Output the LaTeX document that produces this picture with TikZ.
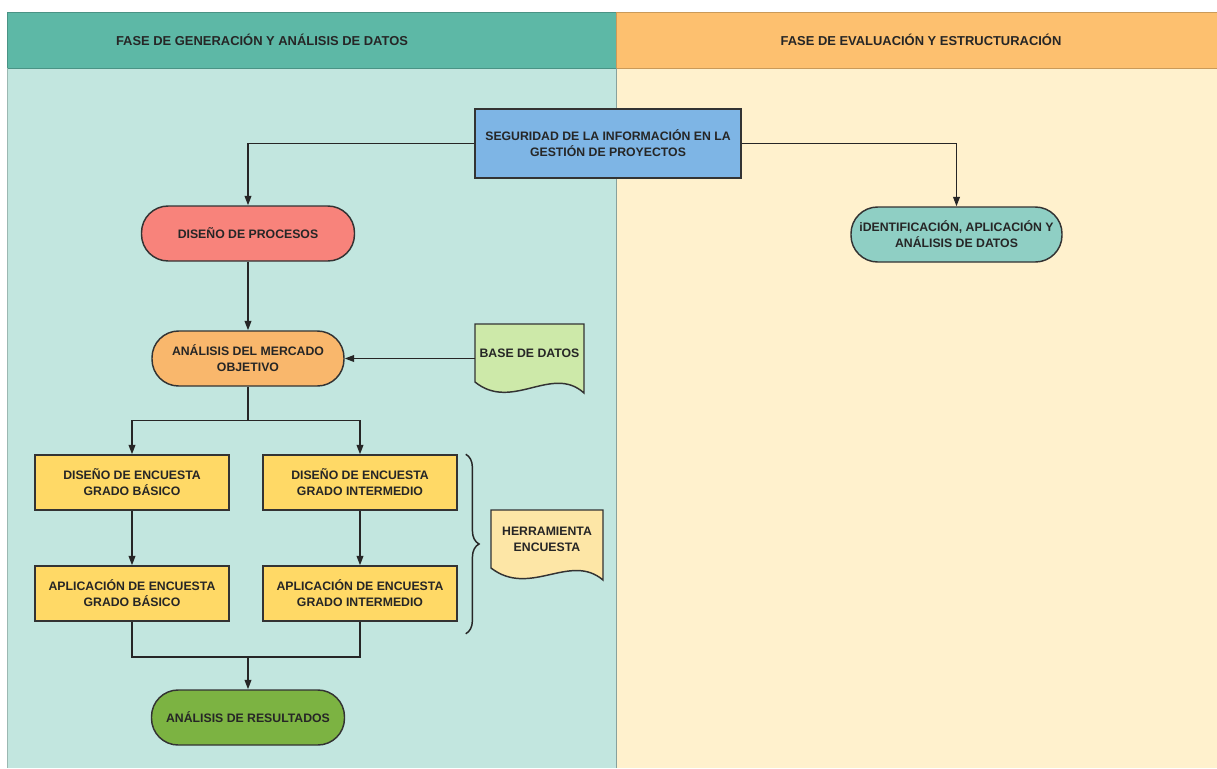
\documentclass[tikz,border=0pt]{standalone}
\usepackage{fontspec}
\setmainfont{Liberation Sans}
\usetikzlibrary{arrows.meta,decorations.pathreplacing}

\definecolor{headteal}{HTML}{5DB8A6}
\definecolor{bodyteal}{HTML}{C2E6DF}
\definecolor{headorange}{HTML}{FDC06F}
\definecolor{bodycream}{HTML}{FFF1CD}
\definecolor{segblue}{HTML}{7EB5E5}
\definecolor{salmon}{HTML}{F8837B}
\definecolor{identteal}{HTML}{8FCFC4}
\definecolor{mercadoorange}{HTML}{F9B76C}
\definecolor{baseverde}{HTML}{CDE9A9}
\definecolor{encyellow}{HTML}{FFD966}
\definecolor{herryellow}{HTML}{FDE6A6}
\definecolor{resgreen}{HTML}{7CB342}

\tikzset{
  lbl/.style={font=\fontsize{9.2}{12}\selectfont\bfseries, text=black!85, align=center},
  head/.style={font=\fontsize{9.7}{12}\selectfont\bfseries, text=black!85},
  box/.style={lbl, draw=black!80, line width=1.1pt, inner sep=1pt,
    minimum width=145.5pt, minimum height=41.25pt},
  pill/.style={box, rounded corners=20pt},
  doc/.style={lbl, inner sep=0pt},
  docline/.style={draw=black!80, line width=1.1pt},
  link/.style={draw=black!85, line width=1.1pt},
  arrow/.style={link, -{Triangle[length=7pt,width=5pt]}},
}

\begin{document}
\begin{tikzpicture}[x=0.75pt,y=-0.75pt]
\useasboundingbox (0,0) rectangle (1217,768);

% lanes
\fill[bodyteal] (7,68) rectangle (616,768);
\fill[bodycream] (616,68) rectangle (1217,768);
\draw[headteal!80!black, line width=0.6pt, fill=headteal] (7,12) rectangle (616,68);
\draw[headorange!80!black, line width=0.6pt, fill=headorange] (616,12) rectangle (1217,68);
\draw[bodyteal!70!black, line width=0.5pt] (616,68) -- (616,768);
\draw[bodyteal!80!black, line width=0.5pt] (7,68) -- (7,768);

\node[head] (fase1) at (262,40) {FASE DE GENERACIÓN Y ANÁLISIS DE DATOS};
\node[head] (fase2) at (921,40) {FASE DE EVALUACIÓN Y ESTRUCTURACIÓN};

% nodes
\node[box, fill=segblue, minimum width=199.5pt, minimum height=51.75pt] (seg) at (608,143.5)
  {SEGURIDAD DE LA INFORMACIÓN EN LA\\GESTIÓN DE PROYECTOS};
\node[pill, fill=salmon, minimum width=159.75pt] (procesos) at (248,233.5) {DISEÑO DE PROCESOS};
\node[pill, fill=identteal, minimum width=158.25pt] (ident) at (956.5,234.5)
  {iDENTIFICACIÓN, APLICACIÓN Y\\ANÁLISIS DE DATOS};
\node[pill, fill=mercadoorange, minimum width=144pt] (mercado) at (248,358.5)
  {ANÁLISIS DEL MERCADO\\OBJETIVO};

% base de datos (document)
\draw[docline, fill=baseverde] (475,324) -- (584,324) -- (584,393)
  .. controls (552,364) and (512,412) .. (475,382) -- cycle;
\node[doc, minimum width=81.75pt, minimum height=43.5pt] (base) at (529.5,353) {BASE DE DATOS};

\node[box, fill=encyellow] (encB) at (132,482.5) {DISEÑO DE ENCUESTA\\GRADO BÁSICO};
\node[box, fill=encyellow] (encI) at (360,482.5) {DISEÑO DE ENCUESTA\\GRADO INTERMEDIO};
\node[box, fill=encyellow] (aplB) at (132,593.5) {APLICACIÓN DE ENCUESTA\\GRADO BÁSICO};
\node[box, fill=encyellow] (aplI) at (360,593.5) {APLICACIÓN DE ENCUESTA\\GRADO INTERMEDIO};

% herramienta (document)
\draw[docline, fill=herryellow] (491,510) -- (603,510) -- (603,580)
  .. controls (570,552) and (530,598) .. (491,568) -- cycle;
\node[doc, minimum width=84pt, minimum height=43.5pt] (herr) at (547,539) {HERRAMIENTA\\ENCUESTA};

\node[pill, fill=resgreen, minimum width=144.75pt] (res) at (248,717.5) {ANÁLISIS DE RESULTADOS};

% connectors
\draw[arrow] (seg.west) -| (procesos.north);
\draw[arrow] (seg.east) -| (ident.north);
\draw[arrow] (procesos) -- (mercado);
\draw[arrow] (base.west |- mercado.east) -- (mercado.east);

\draw[link] (mercado.south) -- ++(0,34) coordinate (split);
\draw[arrow] (split) -| (encB.north);
\draw[arrow] (split) -| (encI.north);

\draw[arrow] (encB) -- (aplB);
\draw[arrow] (encI) -- (aplI);

\coordinate (merge) at (248,657);
\draw[link] (aplB.south) |- (merge) -| (aplI.south);
\draw[arrow] (merge) -- (res.north);

\draw[link, decorate, decoration={brace, amplitude=10pt}]
  ([xshift=6pt]encI.north east) -- ([xshift=6pt,yshift=-9pt]aplI.south east);
\end{tikzpicture}
\end{document}
